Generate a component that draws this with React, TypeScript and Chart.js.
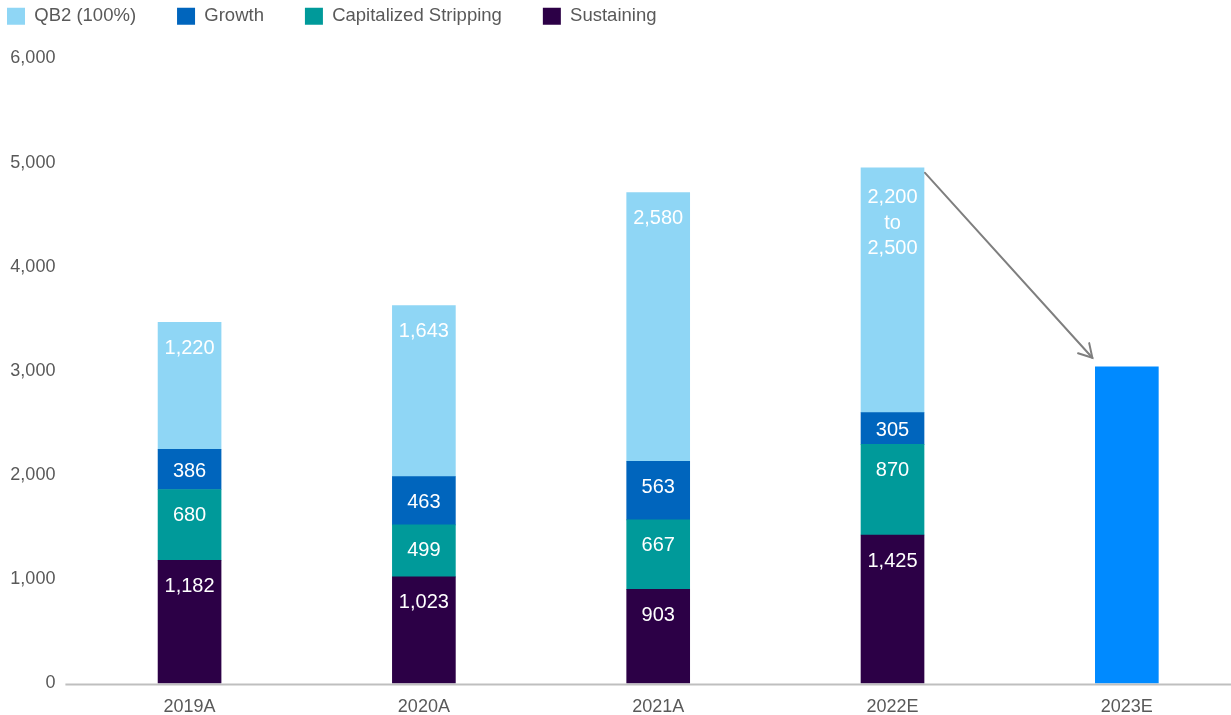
import React, { useEffect, useRef } from "react";
import { Chart, registerables } from "chart.js";

Chart.register(...registerables);

// ---- data ----
const categories = ["2019A", "2020A", "2021A", "2022E", "2023E"];
const sustaining = [1182, 1023, 903, 1425, null];
const capitalizedStripping = [680, 499, 667, 870, null];
const growth = [386, 463, 563, 305, null];
const qb2 = [1220, 1643, 2580, 2350, null];
const guidance2023 = [null, null, null, null, 3040];
const qb2RangeLabel2022 = ["2,200", "to", "2,500"];
const yTicks = [0, 1000, 2000, 3000, 4000, 5000, 6000];

const FONT = "'Liberation Sans', Arial, sans-serif";
const fmt = (v: number) => v.toLocaleString("en-US");

const legendSpacer = {
  id: "legendSpacer",
  beforeLayout(chart: any) {
    const lg = chart.legend;
    if (lg && !lg._spacerPatched) {
      const orig = lg.fit;
      lg.fit = function () {
        orig.call(this);
        this.height += 23;
      };
      lg._spacerPatched = true;
    }
  },
};

const axisLine = {
  id: "axisLine",
  afterDatasetsDraw(chart: any) {
    const { ctx, chartArea } = chart;
    const y = chart.scales.y.getPixelForValue(0);
    ctx.save();
    ctx.strokeStyle = "#BFBFBF";
    ctx.lineWidth = 2;
    ctx.beginPath();
    ctx.moveTo(chartArea.left - 7, y + 1);
    ctx.lineTo(chartArea.right, y + 1);
    ctx.stroke();
    ctx.restore();
  },
};

const segmentLabels = {
  id: "segmentLabels",
  afterDatasetsDraw(chart: any) {
    const { ctx } = chart;
    ctx.save();
    ctx.fillStyle = "#FFFFFF";
    ctx.font = `20px ${FONT}`;
    ctx.textAlign = "center";
    ctx.textBaseline = "middle";
    for (let d = 0; d < 4; d++) {
      const meta = chart.getDatasetMeta(d);
      const data = chart.data.datasets[d].data as (number | null)[];
      meta.data.forEach((el: any, i: number) => {
        const v = data[i];
        if (v == null) return;
        const { x, y, base } = el.getProps(["x", "y", "base"], true);
        const top = Math.min(y, base);
        const h = Math.abs(base - y);
        if (d === 3 && i === 3) {
          qb2RangeLabel2022.forEach((t, k) => {
            ctx.fillText(t, x, top + 30 + k * 25.5);
          });
          return;
        }
        const ly = top + Math.min(26, h / 2 + 2);
        ctx.fillText(fmt(v), x, ly);
      });
    }
    ctx.restore();
  },
};

const arrowPlugin = {
  id: "arrowPlugin",
  afterDatasetsDraw(chart: any) {
    const { ctx } = chart;
    const from = chart.getDatasetMeta(3).data[3] as any;
    const to = chart.getDatasetMeta(4).data[4] as any;
    if (!from || !to) return;
    const f = from.getProps(["x", "y", "width"], true);
    const t = to.getProps(["x", "y", "width"], true);
    const x1 = f.x + f.width / 2 + 1;
    const y1 = f.y + 5;
    const x2 = t.x - t.width / 2 - 3;
    const y2 = t.y - 9;
    const ang = Math.atan2(y2 - y1, x2 - x1);
    const len = 15;
    ctx.save();
    ctx.strokeStyle = "#7F7F7F";
    ctx.lineWidth = 2;
    ctx.lineCap = "round";
    ctx.lineJoin = "miter";
    ctx.beginPath();
    ctx.moveTo(x1, y1);
    ctx.lineTo(x2, y2);
    ctx.stroke();
    ctx.beginPath();
    ctx.moveTo(x2 - len * Math.cos(ang - Math.PI / 6), y2 - len * Math.sin(ang - Math.PI / 6));
    ctx.lineTo(x2, y2);
    ctx.lineTo(x2 - len * Math.cos(ang + Math.PI / 6), y2 - len * Math.sin(ang + Math.PI / 6));
    ctx.stroke();
    ctx.restore();
  },
};

export default function App() {
  const canvasRef = useRef<HTMLCanvasElement | null>(null);

  useEffect(() => {
    const canvas = canvasRef.current;
    if (!canvas) return;
    Chart.defaults.font.family = FONT;
    const chart = new Chart(canvas, {
      type: "bar",
      data: {
        labels: categories,
        datasets: [
          { label: "Sustaining", data: sustaining, backgroundColor: "#2C0046" },
          { label: "Capitalized Stripping", data: capitalizedStripping, backgroundColor: "#009A9A" },
          { label: "Growth", data: growth, backgroundColor: "#0065BD" },
          { label: "QB2 (100%)", data: qb2, backgroundColor: "#8FD6F5" },
          { label: "2023E", data: guidance2023, backgroundColor: "#008AFF" },
        ] as any,
      },
      options: {
        responsive: false,
        devicePixelRatio: 1,
        animation: false,
        layout: { padding: 0 },
        datasets: { bar: { barThickness: 63, borderWidth: 0 } } as any,
        plugins: {
          tooltip: { enabled: false },
          legend: {
            display: true,
            position: "top",
            align: "start",
            reverse: true,
            labels: {
              boxWidth: 18,
              boxHeight: 17,
              padding: 41,
              color: "#595959",
              font: { size: 18.5, family: FONT },
              filter: (item: any) => item.text !== "2023E",
            },
          },
        },
        scales: {
          x: {
            stacked: true,
            grid: { display: false, drawTicks: false },
            border: { display: false },
            ticks: { color: "#595959", font: { size: 18, family: FONT }, padding: 13 },
          },
          y: {
            stacked: true,
            min: 0,
            max: 6000,
            afterFit: (scale: any) => {
              scale.width = 106.4;
            },
            afterBuildTicks: (scale: any) => {
              scale.ticks = yTicks.map((v) => ({ value: v }));
            },
            grid: { display: false, drawTicks: false },
            border: { display: false },
            ticks: {
              color: "#595959",
              font: { size: 18, family: FONT },
              padding: 17,
              callback: (v: any) => fmt(Number(v)),
            },
          },
        },
      },
      plugins: [legendSpacer, axisLine, segmentLabels, arrowPlugin],
    });
    return () => chart.destroy();
  }, []);

  return (
    <div
      style={{
        position: "fixed",
        left: 0,
        top: 0,
        width: 1231,
        height: 715,
        overflow: "hidden",
        background: "#FFFFFF",
      }}
    >
      <canvas
        ref={canvasRef}
        width={1278}
        height={765}
        style={{ position: "absolute", left: -34, top: -34, width: 1278, height: 765 }}
      />
    </div>
  );
}
